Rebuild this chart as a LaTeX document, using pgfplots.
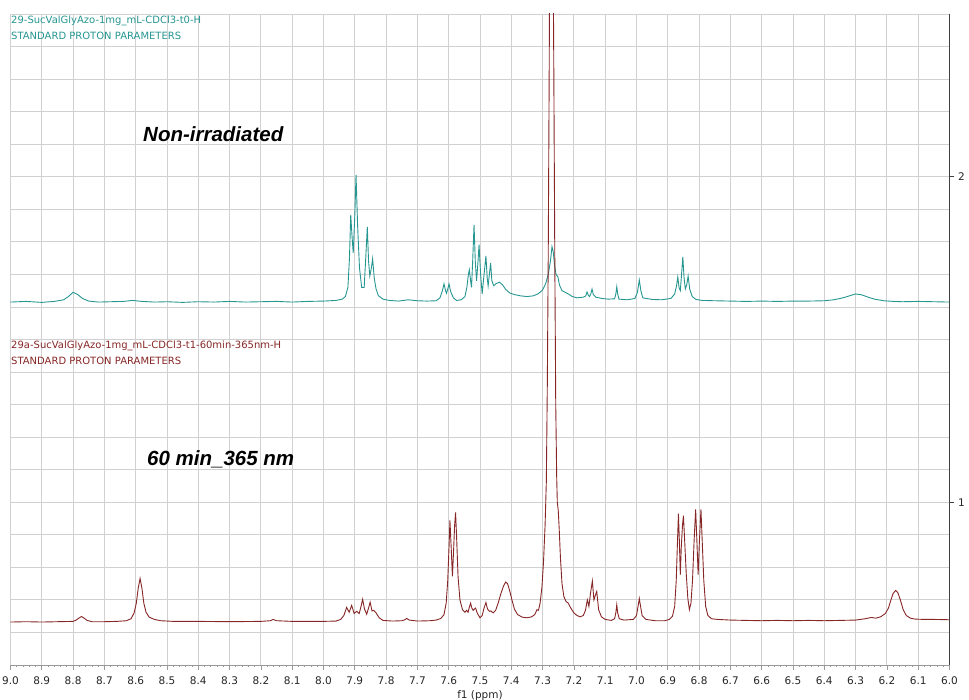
\documentclass[border=0pt]{standalone}
\usepackage{pgfplots}
\pgfplotsset{compat=1.18}
\usepackage{fontspec}
\setmainfont{DejaVu Sans}
\newfontfamily\boldital{Liberation Sans}
\definecolor{tealc}{RGB}{38,150,145}
\definecolor{redc}{RGB}{135,38,38}
\begin{document}
\begin{tikzpicture}
\begin{axis}[
  scale only axis, width=939pt, height=651pt,
  at={(0pt,0pt)}, anchor=south west,
  xmin=6, xmax=9, x dir=reverse, ymin=0.5, ymax=2.5,
  axis x line=bottom, axis y line=right,
  x axis line style={-, draw=gray!80, line width=0.8pt},
  y axis line style={-, draw=black!75, line width=1pt},
  xtick={6.0,6.1,6.2,6.3,6.4,6.5,6.6,6.7,6.8,6.9,7.0,7.1,7.2,7.3,7.4,7.5,7.6,7.7,7.8,7.9,8.0,8.1,8.2,8.3,8.4,8.5,8.6,8.7,8.8,8.9,9.0},
  minor x tick num=4,
  ytick={1,2},
  minor ytick={0.5,0.6,0.7,0.8,0.9,1.1,1.2,1.3,1.4,1.5,1.6,1.7,1.8,1.9,2.1,2.2,2.3,2.4,2.5},
  minor y tick style={draw=none},
  xmajorgrids=true, ymajorgrids=true, yminorgrids=true,
  major grid style={draw=black!18, line width=0.8pt},
  minor grid style={draw=black!18, line width=0.8pt},
  tick align=outside,
  major tick length=5pt, minor tick length=2.5pt,
  x tick style={draw=gray!80, line width=0.7pt},
  y tick style={draw=black!75, line width=0.7pt},
  /pgf/number format/assume math mode=true,
  xticklabel style={yshift=-3.5pt, font=\fontsize{10.5}{12}\selectfont, text=black!85, /pgf/number format/.cd, fixed, fixed zerofill, precision=1},
  yticklabel style={font=\fontsize{10.5}{12}\selectfont, text=black!85},
  xlabel={f1 (ppm)},
  xlabel style={at={(axis description cs:0.5,0)}, anchor=center, yshift=-30.5pt, font=\fontsize{10.5}{12}\selectfont, text=black!85},
  clip=true,
]
\addplot[color=tealc, line width=0.9pt] coordinates {
(9.00,1.615) (8.95,1.617) (8.90,1.614) (8.86,1.617) (8.83,1.622) (8.815,1.632) (8.80,1.645) (8.785,1.638) (8.77,1.626) (8.75,1.618) (8.72,1.615) (8.68,1.616) (8.64,1.617) (8.61,1.620) (8.58,1.617) (8.54,1.615) (8.50,1.616) (8.45,1.614) (8.40,1.616) (8.35,1.615) (8.30,1.617) (8.25,1.615) (8.20,1.616) (8.15,1.617) (8.10,1.615) (8.05,1.617) (8.00,1.618) (7.96,1.620) (7.94,1.624) (7.93,1.632) (7.922,1.66) (7.917,1.75) (7.913,1.883) (7.909,1.82) (7.905,1.766) (7.900,1.88) (7.896,2.006) (7.891,1.85) (7.885,1.72) (7.878,1.66) (7.870,1.66) (7.865,1.75) (7.860,1.846) (7.856,1.74) (7.852,1.695) (7.847,1.72) (7.843,1.748) (7.838,1.69) (7.832,1.655) (7.825,1.635) (7.81,1.624) (7.79,1.620) (7.76,1.618) (7.73,1.622) (7.70,1.619) (7.67,1.618) (7.64,1.619) (7.628,1.628) (7.620,1.650) (7.615,1.671) (7.610,1.650) (7.607,1.642) (7.603,1.655) (7.599,1.671) (7.594,1.648) (7.585,1.628) (7.575,1.620) (7.56,1.622) (7.548,1.632) (7.542,1.66) (7.537,1.70) (7.534,1.714) (7.530,1.68) (7.527,1.66) (7.523,1.75) (7.519,1.852) (7.515,1.74) (7.511,1.68) (7.507,1.73) (7.503,1.791) (7.498,1.70) (7.493,1.640) (7.487,1.70) (7.481,1.757) (7.477,1.69) (7.474,1.665) (7.470,1.70) (7.466,1.735) (7.462,1.68) (7.456,1.665) (7.448,1.672) (7.438,1.676) (7.428,1.668) (7.418,1.654) (7.405,1.643) (7.39,1.638) (7.37,1.634) (7.35,1.632) (7.33,1.634) (7.315,1.640) (7.30,1.652) (7.29,1.672) (7.282,1.70) (7.275,1.74) (7.270,1.785) (7.266,1.77) (7.262,1.73) (7.257,1.70) (7.251,1.692) (7.246,1.667) (7.238,1.650) (7.228,1.645) (7.218,1.640) (7.205,1.632) (7.19,1.628) (7.17,1.630) (7.162,1.634) (7.158,1.646) (7.154,1.636) (7.150,1.632) (7.146,1.640) (7.142,1.655) (7.138,1.638) (7.13,1.630) (7.11,1.626) (7.09,1.624) (7.07,1.625) (7.066,1.64) (7.063,1.662) (7.060,1.64) (7.056,1.624) (7.03,1.622) (7.005,1.626) (6.997,1.645) (6.991,1.683) (6.986,1.65) (6.98,1.628) (6.95,1.623) (6.92,1.622) (6.89,1.626) (6.878,1.64) (6.872,1.665) (6.868,1.692) (6.864,1.66) (6.860,1.650) (6.856,1.70) (6.852,1.754) (6.848,1.69) (6.844,1.655) (6.839,1.67) (6.835,1.695) (6.830,1.655) (6.822,1.632) (6.81,1.623) (6.79,1.620) (6.75,1.619) (6.70,1.618) (6.65,1.617) (6.60,1.618) (6.55,1.617) (6.50,1.618) (6.45,1.618) (6.40,1.619) (6.37,1.622) (6.34,1.628) (6.32,1.634) (6.30,1.640) (6.28,1.637) (6.26,1.630) (6.24,1.624) (6.21,1.619) (6.18,1.617) (6.15,1.616) (6.10,1.617) (6.05,1.616) (6.00,1.615)
};
\addplot[color=redc, line width=0.9pt] coordinates {
(9.00,0.632) (8.95,0.633) (8.90,0.632) (8.85,0.633) (8.80,0.634) (8.79,0.638) (8.78,0.645) (8.773,0.649) (8.765,0.644) (8.755,0.637) (8.74,0.633) (8.70,0.633) (8.66,0.634) (8.63,0.636) (8.615,0.642) (8.605,0.660) (8.598,0.690) (8.592,0.735) (8.586,0.766) (8.580,0.735) (8.574,0.690) (8.567,0.662) (8.557,0.647) (8.54,0.640) (8.52,0.636) (8.48,0.634) (8.40,0.634) (8.30,0.633) (8.20,0.634) (8.17,0.636) (8.161,0.640) (8.15,0.636) (8.10,0.634) (8.05,0.634) (8.00,0.634) (7.96,0.635) (7.945,0.640) (7.935,0.652) (7.926,0.677) (7.918,0.662) (7.910,0.683) (7.902,0.658) (7.894,0.665) (7.886,0.658) (7.880,0.680) (7.875,0.702) (7.869,0.672) (7.862,0.656) (7.856,0.675) (7.851,0.693) (7.845,0.666) (7.840,0.668) (7.832,0.660) (7.822,0.645) (7.81,0.637) (7.78,0.635) (7.75,0.636) (7.740,0.639) (7.734,0.643) (7.726,0.638) (7.70,0.635) (7.66,0.636) (7.64,0.638) (7.625,0.643) (7.615,0.655) (7.608,0.690) (7.603,0.760) (7.599,0.860) (7.596,0.944) (7.592,0.860) (7.588,0.772) (7.584,0.860) (7.581,0.930) (7.578,0.969) (7.575,0.900) (7.570,0.770) (7.564,0.700) (7.556,0.670) (7.548,0.662) (7.543,0.668) (7.538,0.662) (7.534,0.678) (7.530,0.690) (7.526,0.675) (7.522,0.668) (7.518,0.672) (7.514,0.675) (7.509,0.660) (7.500,0.645) (7.493,0.652) (7.487,0.675) (7.481,0.692) (7.476,0.672) (7.470,0.665) (7.465,0.666) (7.458,0.660) (7.450,0.668) (7.442,0.690) (7.433,0.720) (7.425,0.742) (7.418,0.755) (7.412,0.750) (7.405,0.728) (7.398,0.700) (7.39,0.672) (7.38,0.655) (7.365,0.647) (7.35,0.645) (7.335,0.648) (7.325,0.655) (7.318,0.670) (7.313,0.668) (7.308,0.690) (7.302,0.740) (7.297,0.818) (7.292,0.930) (7.288,1.065) (7.285,1.35) (7.282,1.75) (7.279,2.30) (7.276,3.00) (7.272,3.80) (7.268,3.00) (7.264,2.30) (7.261,1.75) (7.258,1.30) (7.255,1.08) (7.253,1.00) (7.250,0.975) (7.247,0.920) (7.243,0.830) (7.238,0.750) (7.232,0.710) (7.225,0.695) (7.218,0.690) (7.21,0.675) (7.20,0.660) (7.19,0.652) (7.18,0.648) (7.17,0.652) (7.163,0.668) (7.157,0.700) (7.152,0.680) (7.147,0.720) (7.141,0.758) (7.136,0.700) (7.132,0.712) (7.127,0.726) (7.121,0.670) (7.112,0.648) (7.10,0.640) (7.08,0.637) (7.07,0.642) (7.066,0.660) (7.063,0.685) (7.060,0.660) (7.055,0.642) (7.04,0.638) (7.01,0.640) (7.000,0.652) (6.995,0.680) (6.991,0.704) (6.987,0.680) (6.982,0.652) (6.97,0.640) (6.94,0.636) (6.91,0.636) (6.895,0.640) (6.885,0.650) (6.878,0.680) (6.873,0.760) (6.869,0.880) (6.866,0.965) (6.863,0.880) (6.860,0.778) (6.857,0.860) (6.853,0.930) (6.850,0.959) (6.846,0.880) (6.841,0.780) (6.836,0.705) (6.831,0.670) (6.826,0.690) (6.821,0.760) (6.816,0.880) (6.811,0.978) (6.807,0.880) (6.803,0.778) (6.799,0.880) (6.794,0.978) (6.790,0.880) (6.785,0.760) (6.779,0.680) (6.772,0.652) (6.76,0.642) (6.74,0.640) (6.70,0.638) (6.65,0.637) (6.60,0.636) (6.55,0.637) (6.50,0.636) (6.45,0.637) (6.40,0.636) (6.35,0.637) (6.30,0.638) (6.27,0.642) (6.25,0.646) (6.235,0.644) (6.22,0.648) (6.205,0.658) (6.195,0.675) (6.187,0.700) (6.18,0.720) (6.172,0.729) (6.165,0.722) (6.157,0.700) (6.148,0.670) (6.138,0.652) (6.125,0.644) (6.11,0.641) (6.08,0.640) (6.05,0.640) (6.00,0.639)
};
\end{axis}
\node[anchor=west, inner sep=0pt, text=tealc, font=\fontsize{10}{12}\selectfont] at (0.5pt,644pt) {29-SucValGlyAzo-1mg\_mL-CDCl3-t0-H};
\node[anchor=west, inner sep=0pt, text=tealc, font=\fontsize{10}{12}\selectfont] at (0.5pt,629pt) {STANDARD PROTON PARAMETERS};
\node[anchor=west, inner sep=0pt, text=redc, font=\fontsize{10}{12}\selectfont] at (0.5pt,319pt) {29a-SucValGlyAzo-1mg\_mL-CDCl3-t1-60min-365nm-H};
\node[anchor=west, inner sep=0pt, text=redc, font=\fontsize{10}{12}\selectfont] at (0.5pt,304pt) {STANDARD PROTON PARAMETERS};
\node[anchor=west, inner sep=0pt, text=black, font=\boldital\bfseries\itshape\fontsize{20.5}{24}\selectfont] at (132.5pt,531pt) {Non-irradiated};
\node[anchor=west, inner sep=0pt, text=black, font=\boldital\bfseries\itshape\fontsize{20.5}{24}\selectfont] at (136.5pt,206pt) {60 min\_365 nm};
\pgfresetboundingbox
\path[use as bounding box] (-10.5pt,-35pt) rectangle (958.5pt,665pt);
\end{tikzpicture}
\end{document}
